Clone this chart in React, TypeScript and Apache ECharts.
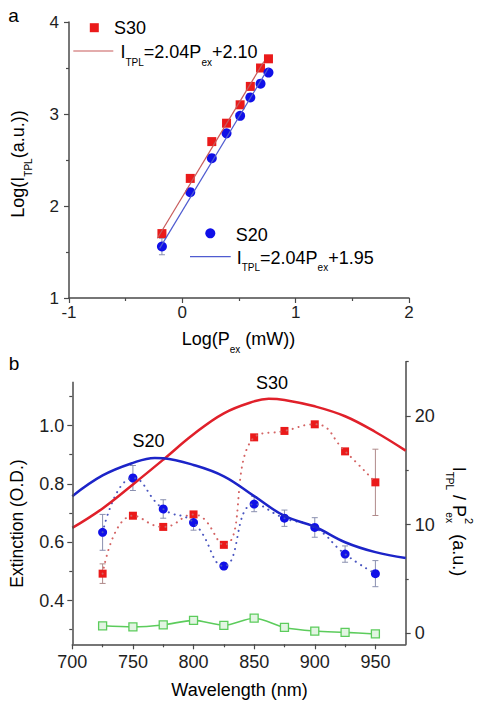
import React, { useEffect, useRef } from 'react';
import * as echarts from 'echarts';

// ---------- Panel a data ----------
const logPower = [-0.18, 0.07, 0.26, 0.39, 0.51, 0.60, 0.69, 0.76];
const logS30 = [1.70, 2.30, 2.70, 2.90, 3.10, 3.30, 3.50, 3.60];
const logS20 = [1.56, 2.15, 2.52, 2.79, 2.98, 3.18, 3.33, 3.45];
const logS20Err = [0.09, 0.03, 0.02, 0.02, 0.02, 0.02, 0.02, 0.02];
const fitS30X = [-0.22, 0.72];
const fitS30Y = [1.65, 3.57];
const fitS20X = [-0.20, 0.76];
const fitS20Y = [1.54, 3.50];

// ---------- Panel b data ----------
const wavelengths = [725, 750, 775, 800, 825, 850, 875, 900, 925, 950];
const tplS20 = [9.3, 14.3, 11.45, 10.2, 6.2, 11.9, 10.6, 9.75, 7.3, 5.5];
const tplS20Err = [1.65, 1.15, 0.85, 0.7, 0.3, 0.7, 0.75, 0.9, 0.75, 1.2];
const tplS30 = [5.5, 10.83, 9.8, 10.95, 8.15, 18.04, 18.63, 19.24, 16.75, 13.9];
const tplS30Err = [0.9, 0.2, 0.2, 0.25, 0.2, 0.2, 0.2, 0.2, 0.2, 3.05];
const tplRef = [0.7, 0.6, 0.78, 1.2, 0.75, 1.4, 0.55, 0.22, 0.1, -0.05];

const extS30Wl = [700, 725, 750, 775, 800, 825, 850, 862, 875, 900, 925, 950, 975];
const extS30 = [0.649, 0.716, 0.798, 0.883, 0.970, 1.042, 1.083, 1.092, 1.088, 1.066, 1.032, 0.978, 0.914];
const extS20Wl = [700, 725, 750, 768, 775, 800, 825, 850, 875, 900, 925, 950, 975];
const extS20 = [0.758, 0.829, 0.872, 0.889, 0.888, 0.865, 0.826, 0.758, 0.690, 0.653, 0.600, 0.566, 0.546];

// ---------- Tick values ----------
const bXMajor = [700, 750, 800, 850, 900, 950];
const bXMinor = [725, 775, 825, 875, 925];
const bLeftMajor = [0.4, 0.6, 0.8, 1.0];
const bLeftMinor = [0.3, 0.5, 0.7, 0.9, 1.1];
const bRightMajor = [0, 10, 20];
const bRightMinor = [5, 15, 25];
const bLeftLineRange = [0.25, 1.15];

const FONT = '"Liberation Sans", Arial, Helvetica, sans-serif';
const TXT = '#1e1e1e';
const AX = '#4a4a4a';
const RED = '#ea1a1a';
const BLUE = '#1010e8';

const zip = (xs: number[], ys: number[]) => xs.map((x, i) => [x, ys[i]]);
const zip3 = (xs: number[], ys: number[], es: number[]) => xs.map((x, i) => [x, ys[i], es[i]]);

const errRender = (color: string) => (params: any, api: any) => {
  const x = api.value(0);
  const y = api.value(1);
  const e = api.value(2);
  const top = api.coord([x, y + e]);
  const bot = api.coord([x, y - e]);
  const w = 3;
  const style = { stroke: color, lineWidth: 1 };
  return {
    type: 'group',
    children: [
      { type: 'line', shape: { x1: top[0], y1: top[1], x2: bot[0], y2: bot[1] }, style },
      { type: 'line', shape: { x1: top[0] - w, y1: top[1], x2: top[0] + w, y2: top[1] }, style },
      { type: 'line', shape: { x1: bot[0] - w, y1: bot[1], x2: bot[0] + w, y2: bot[1] }, style },
    ],
  };
};

const rich = (size: number) => ({
  m: { fontSize: size, lineHeight: 30, fontFamily: FONT, color: TXT },
  s: { fontSize: 10, fontFamily: FONT, color: TXT, verticalAlign: 'bottom' },
  z: { fontSize: 10, fontFamily: FONT, color: TXT, verticalAlign: 'bottom', width: 1 },
  p: { fontSize: 11, fontFamily: FONT, color: TXT, verticalAlign: 'top' },
});

const txt = (x: number, y: number, text: string, size: number, align = 'center', rotation = 0) => ({
  type: 'text',
  x,
  y,
  rotation,
  style: { text, rich: rich(size), align, verticalAlign: 'middle' },
  silent: true,
});

const axisLine = (show = true) => ({ show, onZero: false, lineStyle: { color: AX, width: 1.5 } });
const tickStyle = { color: AX, width: 1.2 };

export default function App() {
  const ref = useRef<HTMLDivElement>(null);
  useEffect(() => {
    document.body.style.margin = '0';
    const chart = echarts.init(ref.current!, undefined, { renderer: 'svg' });
    const option: any = {
      animation: false,
      backgroundColor: '#ffffff',
      grid: [
        { left: 69, top: 22, width: 340, height: 276 },
        { left: 72.3, top: 361.7, width: 333.4, height: 282.6 },
      ],
      xAxis: [
        {
          gridIndex: 0, type: 'value', min: -1, max: 2, interval: 1,
          axisLine: axisLine(), axisTick: { length: 5, lineStyle: tickStyle },
          minorTick: { show: true, splitNumber: 2, length: 3, lineStyle: tickStyle },
          axisLabel: { fontSize: 17, color: TXT, fontFamily: FONT, margin: 6 },
          splitLine: { show: false },
        },
        {
          gridIndex: 1, type: 'value', min: 700, max: 975,
          axisLine: axisLine(), axisTick: { customValues: bXMajor, length: 5, lineStyle: tickStyle },
          axisLabel: { customValues: bXMajor, fontSize: 18, color: TXT, fontFamily: FONT, margin: 9 },
          splitLine: { show: false },
        },
        {
          gridIndex: 1, type: 'value', min: 700, max: 975, position: 'bottom',
          axisLine: axisLine(false), axisTick: { customValues: bXMinor, length: 3, lineStyle: tickStyle },
          axisLabel: { show: false }, splitLine: { show: false },
        },
      ],
      yAxis: [
        {
          gridIndex: 0, type: 'value', min: 1, max: 4, interval: 1,
          axisLine: axisLine(), axisTick: { length: 5, lineStyle: tickStyle },
          minorTick: { show: true, splitNumber: 2, length: 3, lineStyle: tickStyle },
          axisLabel: { fontSize: 17, color: TXT, fontFamily: FONT, margin: 10 },
          splitLine: { show: false },
        },
        {
          gridIndex: 1, type: 'value', position: 'left', min: 0.25, max: 1.219,
          axisLine: axisLine(false), axisTick: { customValues: bLeftMajor, length: 5, lineStyle: tickStyle },
          axisLabel: {
            customValues: bLeftMajor, fontSize: 18, color: TXT, fontFamily: FONT, margin: 8,
            formatter: (v: number) => v.toFixed(1),
          },
          splitLine: { show: false },
        },
        {
          gridIndex: 1, type: 'value', position: 'left', min: 0.25, max: 1.219,
          axisLine: axisLine(false), axisTick: { customValues: bLeftMinor, length: 3, lineStyle: tickStyle },
          axisLabel: { show: false }, splitLine: { show: false },
        },
        {
          gridIndex: 1, type: 'value', position: 'right', min: -1, max: 25,
          axisLine: axisLine(), axisTick: { customValues: bRightMajor, length: 5, lineStyle: tickStyle },
          axisLabel: { customValues: bRightMajor, fontSize: 18, color: TXT, fontFamily: FONT, margin: 9 },
          splitLine: { show: false },
        },
        {
          gridIndex: 1, type: 'value', position: 'right', min: -1, max: 25,
          axisLine: axisLine(false), axisTick: { customValues: bRightMinor, length: 3, lineStyle: tickStyle },
          axisLabel: { show: false }, splitLine: { show: false },
        },
      ],
      series: [
        // ---- panel a ----
        {
          type: 'line', name: 'S30 fit', xAxisIndex: 0, yAxisIndex: 0, data: zip(fitS30X, fitS30Y),
          symbol: 'none', lineStyle: { color: '#c85b5b', width: 1.2 }, silent: true,
        },
        {
          type: 'line', name: 'S20 fit', xAxisIndex: 0, yAxisIndex: 0, data: zip(fitS20X, fitS20Y),
          symbol: 'none', lineStyle: { color: '#4f5bd0', width: 1.2 }, silent: true,
        },
        {
          type: 'custom', name: 'S20 err a', xAxisIndex: 0, yAxisIndex: 0,
          data: zip3(logPower, logS20, logS20Err), renderItem: errRender('#8a90b0'),
          encode: { x: 0, y: 1 }, silent: true,
        },
        {
          type: 'scatter', name: 'S30', xAxisIndex: 0, yAxisIndex: 0, data: zip(logPower, logS30),
          symbol: 'rect', symbolSize: 9, itemStyle: { color: RED, opacity: 1 },
        },
        {
          type: 'scatter', name: 'S20', xAxisIndex: 0, yAxisIndex: 0, data: zip(logPower, logS20),
          symbol: 'circle', symbolSize: 10, itemStyle: { color: BLUE, opacity: 1 },
        },
        // ---- panel b ----
        {
          type: 'line', name: 'S30 TPL dotted', xAxisIndex: 1, yAxisIndex: 3, data: zip(wavelengths, tplS30),
          smooth: 0.5, symbol: 'none',
          lineStyle: { color: '#d46464', width: 2, type: [0.1, 6], cap: 'round' }, silent: true,
        },
        {
          type: 'line', name: 'S20 TPL dotted', xAxisIndex: 1, yAxisIndex: 3, data: zip(wavelengths, tplS20),
          smooth: 0.5, symbol: 'none',
          lineStyle: { color: '#4a56c0', width: 2, type: [0.1, 6], cap: 'round' }, silent: true,
        },
        {
          type: 'line', name: 'S30 extinction', xAxisIndex: 1, yAxisIndex: 1, data: zip(extS30Wl, extS30),
          smooth: 0.4, symbol: 'none', lineStyle: { color: '#e0202a', width: 2.5 }, silent: true,
        },
        {
          type: 'line', name: 'S20 extinction', xAxisIndex: 1, yAxisIndex: 1, data: zip(extS20Wl, extS20),
          smooth: 0.4, symbol: 'none', lineStyle: { color: '#1c24c8', width: 2.5 }, silent: true,
          markLine: {
            silent: true, symbol: ['none', 'none'], label: { show: false },
            lineStyle: { color: AX, width: 1.5, type: 'solid' },
            data: [[{ coord: [bXMajor[0], bLeftLineRange[0]] }, { coord: [bXMajor[0], bLeftLineRange[1]] }]],
          },
        },
        {
          type: 'line', name: 'Reference', xAxisIndex: 1, yAxisIndex: 3, data: zip(wavelengths, tplRef),
          smooth: 0.3, symbol: 'rect', symbolSize: 8,
          itemStyle: { color: '#e2f5e2', borderColor: '#5ccc5c', borderWidth: 1.3, opacity: 1 },
          lineStyle: { color: '#5ccc5c', width: 1.6 }, silent: true,
        },
        {
          type: 'custom', name: 'S30 err b', xAxisIndex: 1, yAxisIndex: 3,
          data: zip3(wavelengths, tplS30, tplS30Err), renderItem: errRender('#b08a8a'),
          encode: { x: 0, y: 1 }, silent: true,
        },
        {
          type: 'custom', name: 'S20 err b', xAxisIndex: 1, yAxisIndex: 3,
          data: zip3(wavelengths, tplS20, tplS20Err), renderItem: errRender('#8a90b0'),
          encode: { x: 0, y: 1 }, silent: true,
        },
        {
          type: 'scatter', name: 'S30 TPL', xAxisIndex: 1, yAxisIndex: 3, data: zip(wavelengths, tplS30),
          symbol: 'rect', symbolSize: 8, itemStyle: { color: RED, opacity: 1 },
        },
        {
          type: 'scatter', name: 'S20 TPL', xAxisIndex: 1, yAxisIndex: 3, data: zip(wavelengths, tplS20),
          symbol: 'circle', symbolSize: 9, itemStyle: { color: BLUE, opacity: 1 },
        },
      ],
      graphic: [
        txt(13.5, 15, '{m|a}', 19),
        txt(14, 363, '{m|b}', 19),
        // panel a legend
        { type: 'rect', shape: { x: 89.8, y: 23.2, width: 9, height: 9 }, style: { fill: RED }, silent: true },
        txt(114, 28, '{m|S30}', 18, 'left'),
        { type: 'line', shape: { x1: 73.3, y1: 51, x2: 113.3, y2: 51 }, style: { stroke: '#c85b5b', lineWidth: 1.2 }, silent: true },
        txt(120.5, 52, '{m|I}{s|TPL}{m|=2.04P}{s|ex}{m|+2.10}', 18, 'left'),
        { type: 'circle', shape: { cx: 210.3, cy: 233.3, r: 5 }, style: { fill: BLUE }, silent: true },
        txt(235.7, 234.5, '{m|S20}', 18, 'left'),
        { type: 'line', shape: { x1: 190, y1: 256.7, x2: 230.7, y2: 256.7 }, style: { stroke: '#4f5bd0', lineWidth: 1.2 }, silent: true },
        txt(236.7, 257.8, '{m|I}{s|TPL}{m|=2.04P}{s|ex}{m|+1.95}', 18, 'left'),
        // axis titles
        txt(18, 164, '{m|Log(I}{s|TPL}{m|(a.u.))}', 18, 'center', Math.PI / 2),
        txt(238.5, 339, '{m|Log(P}{s|ex}{m| (mW))}', 18),
        txt(17, 523.5, '{m|Extinction (O.D.)}', 17.5, 'center', Math.PI / 2),
        txt(239.5, 690, '{m|Wavelength (nm)}', 18),
        txt(459, 521.5, '{m|I}{s|TPL}{m| / P}{z|ex}{p|2}{m|  (a.u.)}', 18, 'center', -Math.PI / 2),
        // curve labels
        txt(148.5, 441, '{m|S20}', 18),
        txt(272, 383, '{m|S30}', 18),
      ],
    };
    chart.setOption(option);
    return () => chart.dispose();
  }, []);
  return <div ref={ref} style={{ width: 477, height: 705 }} />;
}
